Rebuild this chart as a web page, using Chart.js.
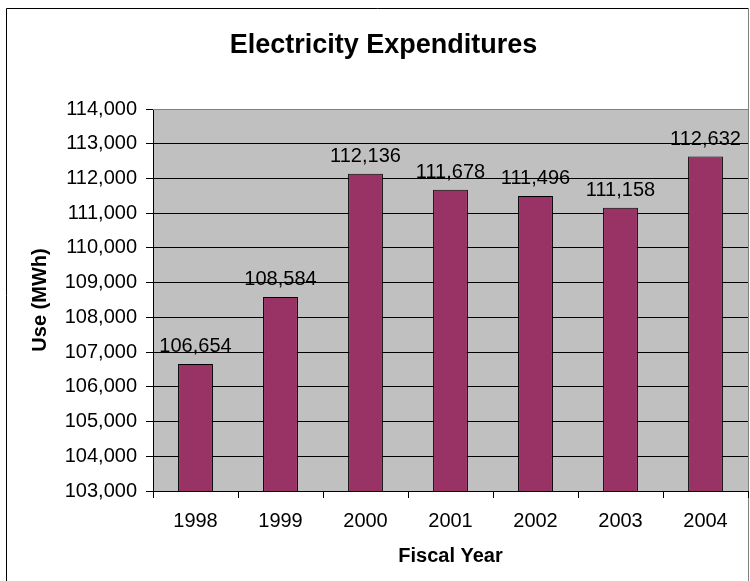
<!DOCTYPE html>
<html>
<head>
<meta charset="utf-8">
<script src="https://cdn.jsdelivr.net/npm/chart.js@4/dist/chart.umd.min.js"></script>
<style>
  html, body { margin: 0; padding: 0; background: #fff; }
  canvas { display: block; }
</style>
</head>
<body>
<canvas id="c" width="750" height="581"></canvas>
<script>
const chartTitle = 'Electricity Expenditures';
const xTitle = 'Fiscal Year';
const yTitle = 'Use (MWh)';
const years = ['1998', '1999', '2000', '2001', '2002', '2003', '2004'];
const usage = [106654, 108584, 112136, 111678, 111496, 111158, 112632];
const yMin = 103000;
const yMax = 114000;
const yStep = 1000;

const FONT = '"Liberation Sans", Arial, sans-serif';
const fmt = v => Number(v).toLocaleString('en-US');

const frame = {
  id: 'frame',
  beforeDraw(chart) {
    const { ctx, chartArea: a } = chart;
    ctx.save();
    ctx.fillStyle = '#ffffff';
    ctx.fillRect(0, 0, chart.width, chart.height);
    ctx.fillStyle = '#C0C0C0';
    ctx.fillRect(a.left, a.top, a.right - a.left, a.bottom - a.top);
    ctx.lineWidth = 1;
    ctx.strokeStyle = '#000000';
    ctx.beginPath();
    ctx.moveTo(6.5, chart.height + 2);
    ctx.lineTo(6.5, 8.5);
    ctx.lineTo(748, 8.5);
    ctx.stroke();
    ctx.strokeStyle = '#808080';
    ctx.beginPath();
    ctx.moveTo(748.5, 8);
    ctx.lineTo(748.5, chart.height + 2);
    ctx.stroke();
    ctx.restore();
  },
  afterDatasetsDraw(chart) {
    const { ctx, chartArea: a } = chart;
    ctx.save();
    ctx.strokeStyle = '#808080';
    ctx.lineWidth = 1;
    ctx.beginPath();
    ctx.moveTo(a.left, Math.round(a.top) + 0.5);
    ctx.lineTo(748.5, Math.round(a.top) + 0.5);
    ctx.stroke();
    const meta = chart.getDatasetMeta(0);
    ctx.fillStyle = '#000000';
    ctx.font = '20px ' + FONT;
    ctx.textAlign = 'center';
    ctx.textBaseline = 'alphabetic';
    meta.data.forEach((el, i) => {
      ctx.fillText(fmt(chart.data.datasets[0].data[i]), el.x, el.y - 12);
    });
    ctx.restore();
  }
};

new Chart(document.getElementById('c'), {
  type: 'bar',
  data: {
    labels: years,
    datasets: [{
      data: usage,
      backgroundColor: '#993366',
      borderColor: '#000000',
      borderWidth: 1,
      borderSkipped: 'start',
      barPercentage: 0.41,
      categoryPercentage: 1
    }]
  },
  options: {
    responsive: false,
    animation: false,
    devicePixelRatio: 1,
    layout: { padding: { left: 19, right: 2, top: 0, bottom: 0 } },
    plugins: {
      legend: { display: false },
      tooltip: { enabled: false },
      title: {
        display: true,
        text: chartTitle,
        color: '#000000',
        font: { family: FONT, size: 27, weight: 'bold', lineHeight: 1.2 },
        padding: { top: 29.5, bottom: 47.1 }
      }
    },
    scales: {
      x: {
        type: 'category',
        offset: true,
        grid: {
          display: true,
          offset: true,
          drawOnChartArea: false,
          drawTicks: true,
          tickLength: 7,
          color: '#000000',
          lineWidth: 1
        },
        border: { display: true, color: '#000000', width: 1 },
        ticks: {
          color: '#000000',
          font: { family: FONT, size: 20 },
          padding: 11,
          maxRotation: 0,
          autoSkip: false
        },
        title: {
          display: true,
          text: xTitle,
          color: '#000000',
          font: { family: FONT, size: 20, weight: 'bold', lineHeight: 1.2 },
          padding: { top: 0, bottom: 13 }
        },
        afterFit(scale) { scale.height = 90; }
      },
      y: {
        type: 'linear',
        min: yMin,
        max: yMax,
        grid: {
          display: true,
          drawOnChartArea: true,
          drawTicks: true,
          tickLength: 7,
          color: ctx => (ctx.tick && ctx.tick.value === yMax) ? '#808080' : '#000000',
          tickColor: '#000000',
          lineWidth: 1
        },
        border: { display: true, color: '#000000', width: 1 },
        ticks: {
          stepSize: yStep,
          color: '#000000',
          font: { family: FONT, size: 20 },
          padding: 9,
          callback: v => fmt(v)
        },
        title: {
          display: true,
          text: yTitle,
          color: '#000000',
          font: { family: FONT, size: 20, weight: 'bold', lineHeight: 1.2 },
          padding: { top: 9.5, bottom: 0 }
        },
        afterFit(scale) { scale.width = 134; }
      }
    }
  },
  plugins: [frame]
});
</script>
</body>
</html>
